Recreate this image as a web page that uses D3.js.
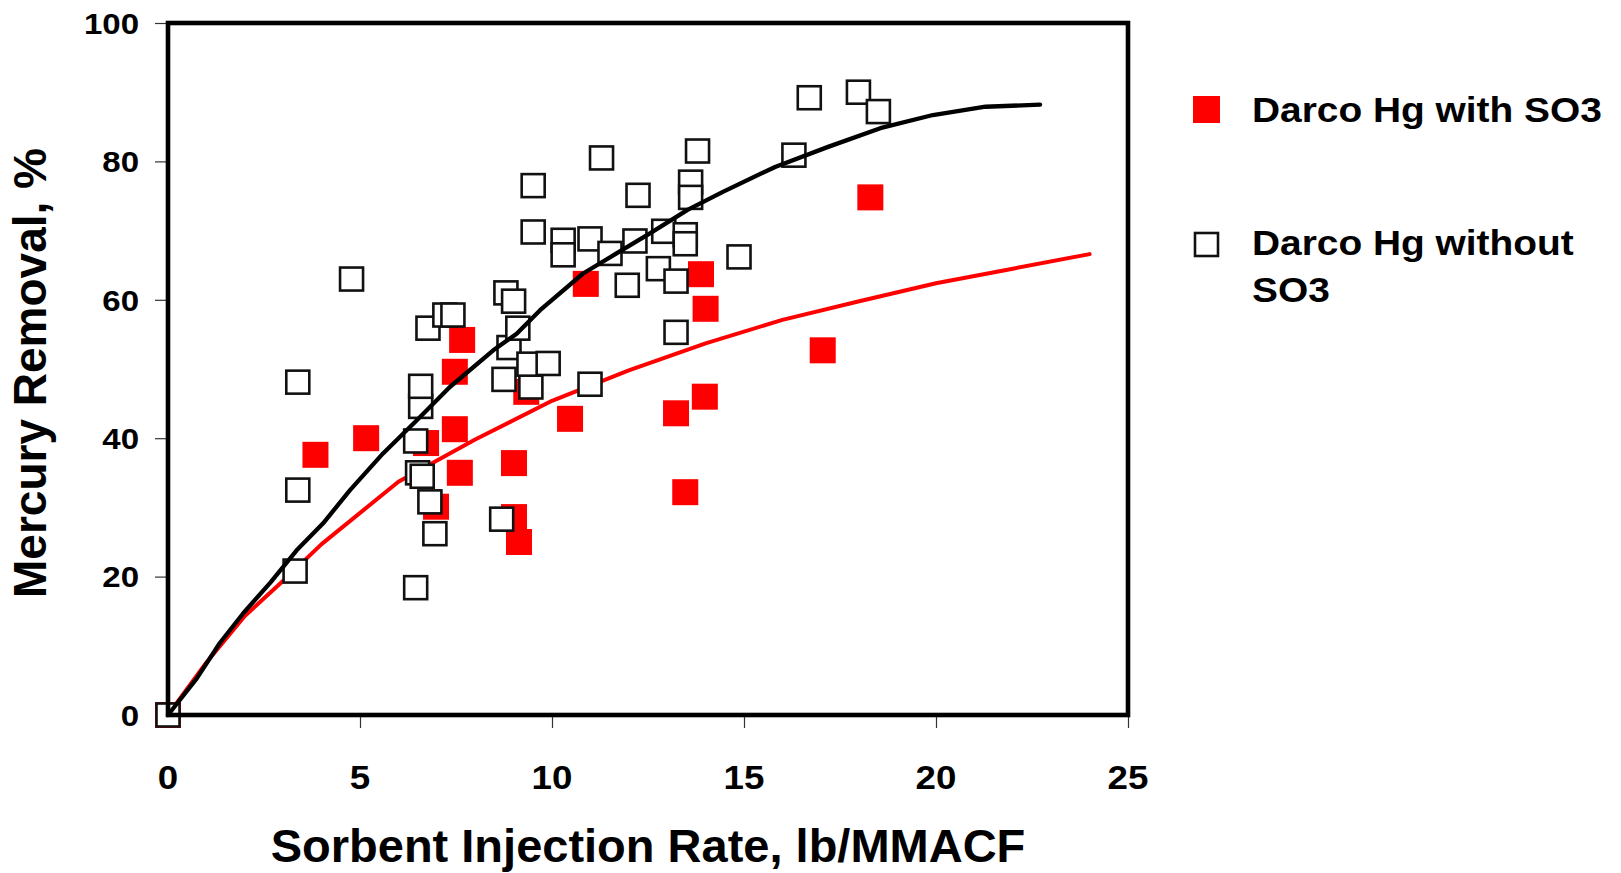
<!DOCTYPE html>
<html>
<head>
<meta charset="utf-8">
<script src="https://cdn.jsdelivr.net/npm/d3@7"></script>
<style>
  html, body { margin: 0; padding: 0; background: #fff; }
  svg { display: block; }
  text { font-family: "Liberation Sans", Arial, sans-serif; font-weight: bold; fill: #000; }
</style>
</head>
<body>
<svg id="chart" width="1621" height="873"></svg>
<script>
// ---- data ----
const xTicks = [0, 5, 10, 15, 20, 25];
const yTicks = [0, 20, 40, 60, 80, 100];

const withSO3X = [0, 3.84, 5.16, 6.72, 6.98, 7.47, 7.47, 7.60, 7.66, 9.01, 9.01, 9.14, 9.33, 10.47, 10.88, 13.23, 13.47, 13.98, 14.00, 13.88, 17.05, 18.29];
const withSO3Y = [0, 37.6, 40.0, 39.3, 30.1, 49.6, 41.3, 35.0, 54.2, 36.4, 28.6, 25.0, 46.7, 42.8, 62.3, 43.6, 32.2, 46.0, 58.7, 63.7, 52.7, 74.8];

const withoutSO3X = [0, 3.31, 3.38, 3.38, 4.78, 6.45, 6.45, 6.50, 6.62, 6.58, 6.58, 6.82, 6.95, 6.77, 7.21, 7.42, 8.69, 8.75, 8.88, 8.80, 9.00, 9.11, 9.45, 9.40, 9.90, 9.51, 9.51, 10.29, 10.29, 10.99, 10.99, 11.29, 11.51, 11.96, 12.16, 12.24, 12.77, 12.91, 13.23, 13.23, 13.47, 13.47, 13.61, 13.61, 13.79, 14.87, 16.30, 16.70, 17.98, 18.50];
const withoutSO3Y = [0, 20.8, 32.5, 48.1, 63.0, 18.4, 39.6, 35.0, 34.5, 44.6, 47.5, 30.8, 26.2, 55.9, 57.8, 57.8, 28.3, 48.5, 53.1, 61.0, 59.8, 55.9, 47.4, 50.7, 50.8, 69.8, 76.5, 68.6, 66.5, 68.8, 47.8, 80.5, 66.7, 62.1, 68.5, 75.1, 64.5, 69.9, 62.7, 55.3, 69.4, 68.1, 77.0, 74.8, 81.5, 66.2, 80.9, 89.2, 90.0, 87.2];

const fitWithX = [0, 1, 2, 3, 4, 6, 8, 10, 12, 14, 16, 18, 20, 22, 24];
const fitWithY = [0, 7.6, 14.3, 19.4, 24.7, 33.7, 39.8, 45.4, 49.8, 53.7, 57.1, 59.8, 62.4, 64.5, 66.6];

const fitWithoutX = [0, 0.75, 1.35, 1.96, 2.66, 3.35, 4.04, 4.74, 5.6, 6.48, 7.34, 8.47, 9.08, 9.69, 10.81, 11.68, 12.55, 13.53, 14.45, 15.81, 17.19, 18.55, 19.92, 21.29, 22.71];
const fitWithoutY = [0, 5.3, 10.4, 14.7, 19.1, 23.8, 27.7, 32.5, 37.8, 42.6, 47.4, 52.7, 55.1, 58.5, 63.8, 66.7, 69.6, 73.0, 75.6, 79.2, 82.1, 84.8, 86.7, 87.9, 88.2];

const seriesNames = ["Darco Hg with SO3", "Darco Hg without", "SO3"];
const xTitle = "Sorbent Injection Rate, lb/MMACF";
const yTitle = "Mercury Removal, %";

// ---- layout ----
const svg = d3.select("#chart");
const x = d3.scaleLinear().domain([0, 25]).range([168, 1128]);
const y = d3.scaleLinear().domain([0, 100]).range([715, 23]);

const zip = (xs, ys) => xs.map((v, i) => [v, ys[i]]);
const withPts = zip(withSO3X, withSO3Y);
const withoutPts = zip(withoutSO3X, withoutSO3Y);

// axes (ticks)
const yAxis = svg.append("g").attr("transform", "translate(168,0)")
  .call(d3.axisLeft(y).tickValues(yTicks).tickSize(13).tickSizeOuter(0).tickFormat(""));
yAxis.select(".domain").remove();
yAxis.selectAll(".tick line").attr("stroke", "#333").attr("stroke-width", 1.2);

const xAxis = svg.append("g").attr("transform", "translate(0,715)")
  .call(d3.axisBottom(x).tickValues(xTicks).tickSize(13).tickSizeOuter(0).tickFormat(""));
xAxis.select(".domain").remove();
xAxis.selectAll(".tick line").attr("stroke", "#333").attr("stroke-width", 1.2);

// tick labels
svg.append("g").selectAll("text").data(yTicks).join("text")
  .attr("transform", d => `translate(139,${y(d)}) scale(1.1,1)`)
  .attr("text-anchor", "end")
  .attr("dy", "0.36em")
  .style("font-size", "30px")
  .text(d => d);

svg.append("g").selectAll("text").data(xTicks).join("text")
  .attr("transform", d => `translate(${x(d)},789) scale(1.08,1)`)
  .attr("text-anchor", "middle")
  .style("font-size", "34px")
  .text(d => d);

// red filled squares
const rs = 26;
svg.append("g").selectAll("rect").data(withPts).join("rect")
  .attr("x", d => x(d[0]) - rs / 2)
  .attr("y", d => y(d[1]) - rs / 2)
  .attr("width", rs).attr("height", rs)
  .attr("fill", "#ff0000");

// red fit line
const line = d3.line().x(d => x(d[0])).y(d => y(d[1]));
svg.append("path").datum(zip(fitWithX, fitWithY))
  .attr("d", line).attr("fill", "none")
  .attr("stroke", "#ff0000").attr("stroke-width", 4)
  .attr("stroke-linejoin", "round").attr("stroke-linecap", "round");

// open squares
const os = 23;
svg.append("g").selectAll("rect").data(withoutPts).join("rect")
  .attr("x", d => x(d[0]) - os / 2)
  .attr("y", d => y(d[1]) - os / 2)
  .attr("width", os).attr("height", os)
  .attr("fill", "#fff").attr("stroke", "#111").attr("stroke-width", 2.6);

// black fit line
svg.append("path").datum(zip(fitWithoutX, fitWithoutY))
  .attr("d", line).attr("fill", "none")
  .attr("stroke", "#000").attr("stroke-width", 4.3)
  .attr("stroke-linejoin", "round").attr("stroke-linecap", "round");

// frame
svg.append("rect")
  .attr("x", x(0)).attr("y", y(100))
  .attr("width", x(25) - x(0)).attr("height", y(0) - y(100))
  .attr("fill", "none").attr("stroke", "#000").attr("stroke-width", 4.6);

// axis titles
svg.append("text")
  .attr("x", 648).attr("y", 862)
  .attr("text-anchor", "middle")
  .style("font-size", "47px")
  .text(xTitle);

svg.append("text")
  .attr("transform", "translate(46,373) rotate(-90)")
  .attr("text-anchor", "middle")
  .style("font-size", "46px")
  .text(yTitle);

// legend
const lg = svg.append("g");
lg.append("rect").attr("x", 1193).attr("y", 96).attr("width", 27).attr("height", 27).attr("fill", "#ff0000");
lg.append("rect").attr("x", 1195).attr("y", 233).attr("width", 23).attr("height", 23)
  .attr("fill", "#fff").attr("stroke", "#111").attr("stroke-width", 2.6);
lg.append("text").attr("transform", "translate(1252,122) scale(1.08,1)").style("font-size", "36px").text(seriesNames[0]);
lg.append("text").attr("transform", "translate(1252,255) scale(1.08,1)").style("font-size", "36px").text(seriesNames[1]);
lg.append("text").attr("transform", "translate(1252,302) scale(1.08,1)").style("font-size", "36px").text(seriesNames[2]);
</script>
</body>
</html>
